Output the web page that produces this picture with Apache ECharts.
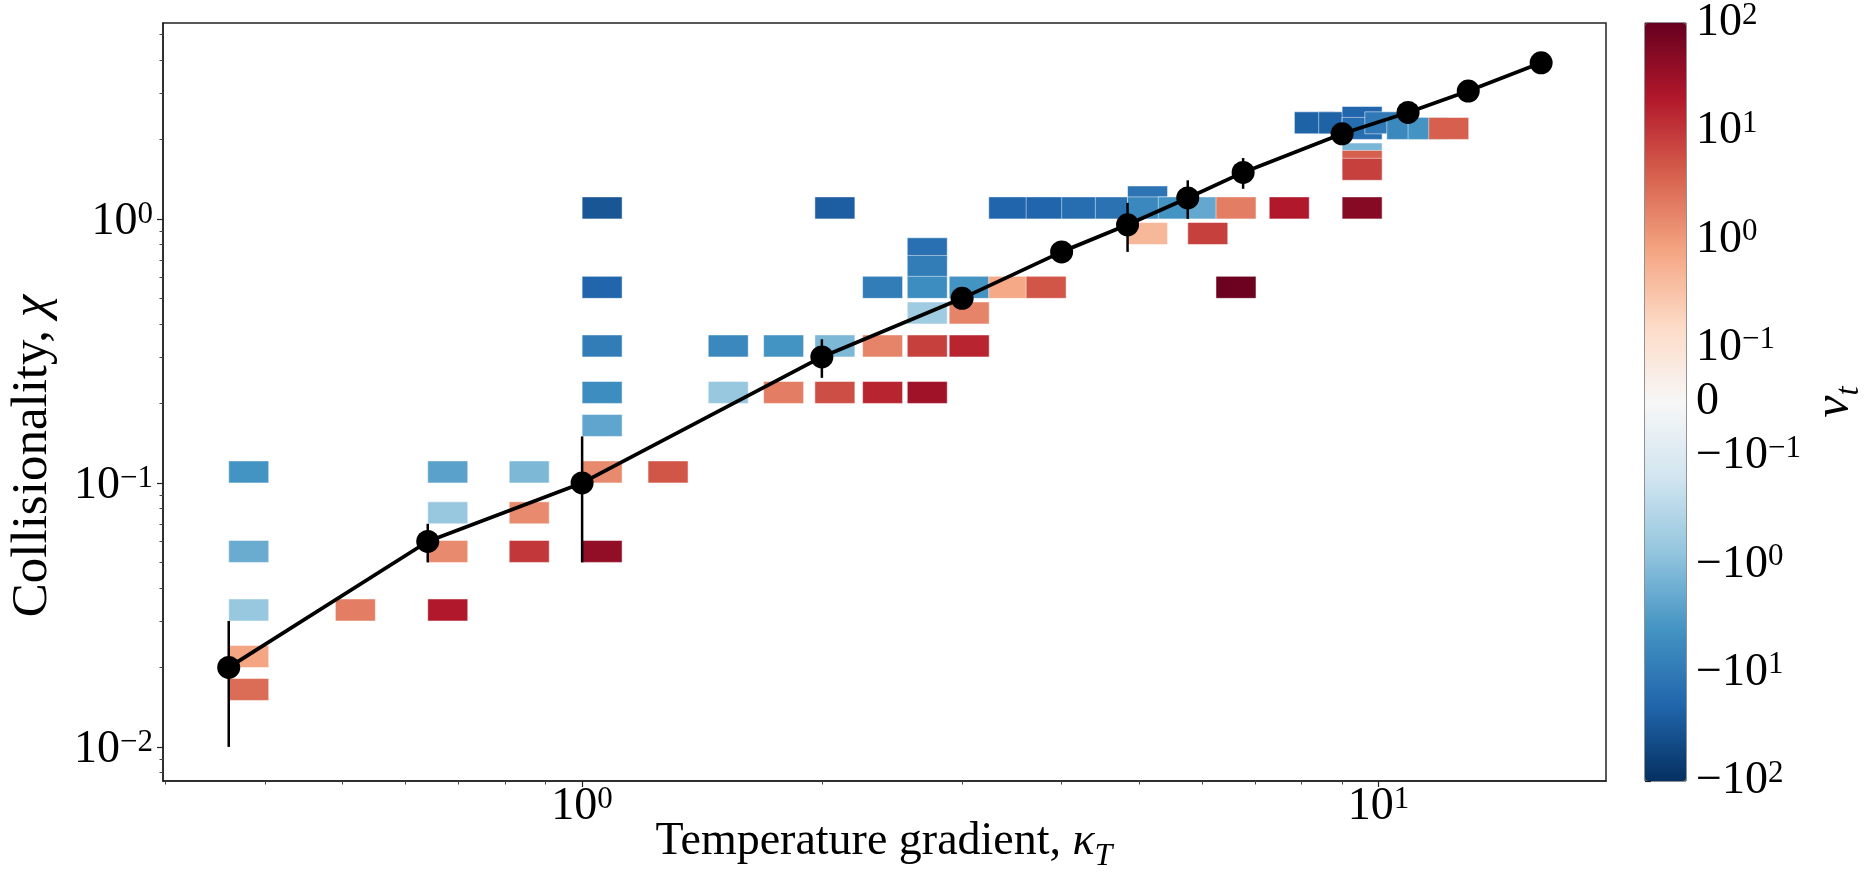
<!DOCTYPE html>
<html>
<head>
<meta charset="utf-8">
<script src="https://cdn.jsdelivr.net/npm/echarts@6.0.0/dist/echarts.min.js"></script>
<style>
  html, body { margin: 0; padding: 0; background: #fff; }
  #chart { width: 1866px; height: 873px; }
</style>
</head>
<body>
<div id="chart"></div>
<script>
// cells: lower-left corner at (kappa, chi), coloured by nu_t
const cellKappa = [0.36, 0.36, 0.36, 0.36, 0.36, 0.49, 0.64, 0.64, 0.64, 0.64, 0.81, 0.81, 0.81,
  1.0, 1.0, 1.0, 1.0, 1.0, 1.0, 1.0, 1.21, 1.44, 1.44, 1.69, 1.69, 1.96, 1.96, 1.96,
  2.25, 2.25, 2.25, 2.56, 2.56, 2.56, 2.56, 2.56, 2.56, 2.89, 2.89, 2.89, 3.24, 3.24, 3.61, 3.61,
  4.0, 4.41, 4.84, 4.84, 4.84, 5.29, 5.76, 5.76, 6.25, 6.25, 7.29, 7.84, 8.41,
  9.0, 9.0, 9.0, 9.0, 9.0, 9.0, 9.61, 10.24, 10.89, 11.56];
const cellChi = [0.1, 0.05, 0.03, 0.02, 0.015, 0.03, 0.1, 0.07, 0.05, 0.03, 0.1, 0.07, 0.05,
  1.0, 0.5, 0.3, 0.2, 0.15, 0.1, 0.05, 0.1, 0.3, 0.2, 0.3, 0.2, 1.0, 0.3, 0.2,
  0.5, 0.3, 0.2, 0.7, 0.6, 0.5, 0.4, 0.3, 0.2, 0.5, 0.4, 0.3, 1.0, 0.5, 1.0, 0.5,
  1.0, 1.0, 1.1, 1.0, 0.8, 1.0, 1.0, 0.8, 1.0, 0.5, 1.0, 2.1, 2.1,
  2.2, 2.0, 1.6, 1.5, 1.4, 1.0, 2.1, 2.0, 2.0, 2.0];
const cellNu = [-4, -1.8, -0.7, 0.8, 3, 2, -2.5, -0.7, 1.5, 20, -1.2, 1.5, 10,
  -32, -20, -9, -5, -2.2, 1.5, 40, 5, -6, -0.7, -4, 2, -25, -1.2, 6,
  -9, 1.7, 15, -14, -9, -5, -0.55, 8, 30, -4, 1.7, 15, -20, 0.7, -20, 5,
  -15, -13, -12, -6, 0.45, -4, -2, 8, 2, 90, 20, -22, -22,
  -20, -15, -1.3, 4, 8, 50, -10, -6, -4, 4];

// mean curve and error bars
const lineKappa = [0.36, 0.64, 1.0, 2.0, 3.0, 4.0, 4.84, 5.76, 6.76, 9.0, 10.89, 12.96, 16.0];
const lineChi = [0.02, 0.06, 0.1, 0.3, 0.5, 0.75, 0.95, 1.2, 1.5, 2.1, 2.53, 3.05, 3.9];
const errKappa = [0.36, 0.64, 1.0, 2.0, 4.84, 5.76, 6.76];
const errLow = [0.01, 0.05, 0.05, 0.25, 0.75, 1.0, 1.3];
const errHigh = [0.03, 0.07, 0.15, 0.35, 1.15, 1.4, 1.7];

// axes
const xRange = [0.2977, 19.3];
const yRange = [0.00743, 5.52];
const xMajorTicks = [1, 10];
const xMinorTicks = [0.3, 0.4, 0.5, 0.6, 0.7, 0.8, 0.9, 2, 3, 4, 5, 6, 7, 8, 9];
const yMajorTicks = [0.01, 0.1, 1];
const yMinorTicks = [0.008, 0.009, 0.02, 0.03, 0.04, 0.05, 0.06, 0.07, 0.08, 0.09,
  0.2, 0.3, 0.4, 0.5, 0.6, 0.7, 0.8, 0.9, 2, 3, 4, 5];
const cbMajorTicks = [100, 10, 1, 0.1, 0, -0.1, -1, -10, -100];
const cbMinorTicks = [0.2, 0.3, 0.4, 0.5, 0.6, 0.7, 0.8, 0.9, 2, 3, 4, 5, 6, 7, 8, 9,
  20, 30, 40, 50, 60, 70, 80, 90];

const RDBU_R = ['#053061', '#2166ac', '#4393c3', '#92c5de', '#d1e5f0', '#f7f7f7',
  '#fddbc7', '#f4a582', '#d6604d', '#b2182b', '#67001f'];

const FONT = 'Liberation Serif';
const LINTHRESH = 0.1;
const CELL_W = 40, CELL_H = 22;

// symmetric log: one decade per unit, linear part [-0.1, 0.1] spans one unit
function symlog(v) {
  const a = Math.abs(v);
  const u = a >= LINTHRESH ? Math.log10(a / LINTHRESH) + 0.5 : 0.5 * a / LINTHRESH;
  return Math.sign(v) * u;
}

function powLabel(v) {
  if (v === 0) return '{b|0}';
  const sign = v < 0 ? '{b|\u2212}' : '';
  const e = Math.round(Math.log10(Math.abs(v)));
  return sign + '{b|10}{s|' + (e < 0 ? '\u2212' + (-e) : e) + '}';
}

const tickRich = {
  b: { fontFamily: FONT, fontSize: 46, lineHeight: 46, color: '#000', verticalAlign: 'bottom' },
  s: { fontFamily: FONT, fontSize: 31, lineHeight: 28, color: '#000', verticalAlign: 'top' }
};

const cellData = cellKappa.map((k, i) => [k, cellChi[i], cellNu[i], symlog(cellNu[i])]);
const lineData = lineKappa.map((k, i) => [k, lineChi[i]]);
const errData = errKappa.map((k, i) => [k, errLow[i], errHigh[i]]);

const cbLabelMap = {};
cbMajorTicks.forEach(v => { cbLabelMap[symlog(v).toFixed(3)] = powLabel(v); });
const cbMinorU = cbMinorTicks.map(symlog).concat(cbMinorTicks.map(v => symlog(-v)));

const mainGrid = { left: 163, top: 23, width: 1443, height: 758, outerBoundsMode: 'none', containLabel: false };
const cbGrid = { left: 1645, top: 23, width: 41, height: 758, outerBoundsMode: 'none', containLabel: false };

const chart = echarts.init(document.getElementById('chart'));
chart.setOption({
  animation: false,
  backgroundColor: '#fff',
  grid: [
    Object.assign({ show: true, borderColor: '#222', borderWidth: 1.5, backgroundColor: 'transparent' }, mainGrid),
    Object.assign({ show: true, borderColor: '#222', borderWidth: 1, backgroundColor: 'transparent' }, cbGrid),
    Object.assign({ show: false }, mainGrid),
    Object.assign({ show: false }, cbGrid)
  ],
  xAxis: [
    {
      type: 'log', logBase: 10, gridIndex: 0, min: xRange[0], max: xRange[1], position: 'bottom',
      axisLine: { show: true, lineStyle: { color: '#222', width: 1.5 } },
      axisTick: { show: true, customValues: xMajorTicks, length: 6, lineStyle: { color: '#222', width: 1.2 } },
      axisLabel: { customValues: xMajorTicks, formatter: powLabel, margin: 3, rich: tickRich },
      splitLine: { show: false }
    },
    { type: 'value', gridIndex: 1, min: 0, max: 1, show: false },
    {
      type: 'log', logBase: 10, gridIndex: 2, min: xRange[0], max: xRange[1], position: 'bottom',
      axisLine: { show: false },
      axisTick: { show: true, customValues: xMinorTicks, length: 3.5, lineStyle: { color: '#444', width: 1 } },
      axisLabel: { show: false }, splitLine: { show: false }
    },
    { type: 'value', gridIndex: 3, min: 0, max: 1, show: false }
  ],
  yAxis: [
    {
      type: 'log', logBase: 10, gridIndex: 0, min: yRange[0], max: yRange[1], position: 'left',
      axisLine: { show: true, lineStyle: { color: '#222', width: 1.5 } },
      axisTick: { show: true, customValues: yMajorTicks, length: 6, lineStyle: { color: '#222', width: 1.2 } },
      axisLabel: { customValues: yMajorTicks, formatter: powLabel, margin: 10, padding: [6, 0, 0, 0], rich: tickRich },
      splitLine: { show: false }
    },
    {
      type: 'value', gridIndex: 1, min: -3.5, max: 3.5, position: 'right',
      axisLine: { show: false },
      axisTick: { show: true, customValues: cbMajorTicks.map(symlog), length: 6, lineStyle: { color: '#222', width: 1.2 } },
      axisLabel: {
        customValues: cbMajorTicks.map(symlog), margin: 10, rich: tickRich,
        formatter: v => cbLabelMap[v.toFixed(3)] || ''
      },
      splitLine: { show: false }
    },
    {
      type: 'log', logBase: 10, gridIndex: 2, min: yRange[0], max: yRange[1], position: 'left',
      axisLine: { show: false },
      axisTick: { show: true, customValues: yMinorTicks, length: 3.5, lineStyle: { color: '#444', width: 1 } },
      axisLabel: { show: false }, splitLine: { show: false }
    },
    {
      type: 'value', gridIndex: 3, min: -3.5, max: 3.5, position: 'right',
      axisLine: { show: false },
      axisTick: { show: true, customValues: cbMinorU, length: 3.5, lineStyle: { color: '#444', width: 1 } },
      axisLabel: { show: false }, splitLine: { show: false }
    }
  ],
  visualMap: {
    type: 'continuous', seriesIndex: 0, dimension: 3, min: -3.5, max: 3.5,
    inRange: { color: RDBU_R },
    left: cbGrid.left, top: cbGrid.top, itemWidth: cbGrid.width, itemHeight: cbGrid.height,
    padding: 0, text: null, showLabel: false, calculable: false, hoverLink: false
  },
  series: [
    {
      type: 'custom', xAxisIndex: 0, yAxisIndex: 0, z: 2,
      data: cellData,
      encode: { x: 0, y: 1 },
      renderItem: (params, api) => {
        const p = api.coord([api.value(0), api.value(1)]);
        return {
          type: 'rect',
          shape: { x: p[0], y: p[1] - CELL_H, width: CELL_W, height: CELL_H },
          style: { fill: api.visual('color'), stroke: 'rgba(255,255,255,0.5)', lineWidth: 1 }
        };
      }
    },
    {
      type: 'custom', xAxisIndex: 0, yAxisIndex: 0, z: 3,
      data: errData,
      encode: { x: 0, y: [1, 2] },
      renderItem: (params, api) => {
        const lo = api.coord([api.value(0), api.value(1)]);
        const hi = api.coord([api.value(0), api.value(2)]);
        return {
          type: 'line',
          shape: { x1: lo[0], y1: lo[1], x2: hi[0], y2: hi[1] },
          style: { stroke: '#000', lineWidth: 2.5 }
        };
      }
    },
    {
      type: 'line', xAxisIndex: 0, yAxisIndex: 0, z: 4,
      data: lineData,
      symbol: 'circle', symbolSize: 23, showAllSymbol: true,
      lineStyle: { color: '#000', width: 3.8 },
      itemStyle: { color: '#000' }
    }
  ],
  graphic: [
    {
      type: 'text', x: 884, y: 846,
      style: {
        text: '{r|Temperature gradient, }{i|\u03ba}{sub|T}',
        align: 'center', verticalAlign: 'middle',
        rich: {
          r: { fontFamily: FONT, fontSize: 46, lineHeight: 54, fill: '#000', verticalAlign: 'top' },
          i: { fontFamily: FONT, fontSize: 46, fontStyle: 'italic', lineHeight: 54, fill: '#000', verticalAlign: 'top' },
          sub: { fontFamily: FONT, fontSize: 32, fontStyle: 'italic', lineHeight: 32, fill: '#000', verticalAlign: 'bottom' }
        }
      }
    },
    {
      type: 'text', x: 33, y: 456, rotation: Math.PI / 2,
      style: {
        text: '{r|Collisionality, }{i|\u03c7}',
        align: 'center', verticalAlign: 'middle',
        rich: {
          r: { fontFamily: FONT, fontSize: 51, fill: '#000' },
          i: { fontFamily: FONT, fontSize: 51, fontStyle: 'italic', fill: '#000' }
        }
      }
    },
    {
      type: 'text', x: 1838, y: 402, rotation: Math.PI / 2,
      style: {
        text: '{i|\u03bd}{sub|t}',
        align: 'center', verticalAlign: 'middle',
        rich: {
          i: { fontFamily: FONT, fontSize: 50, fontStyle: 'italic', fill: '#000', lineHeight: 56, verticalAlign: 'top' },
          sub: { fontFamily: FONT, fontSize: 33, fontStyle: 'italic', fill: '#000', lineHeight: 33, verticalAlign: 'bottom' }
        }
      }
    }
  ]
});
</script>
</body>
</html>
